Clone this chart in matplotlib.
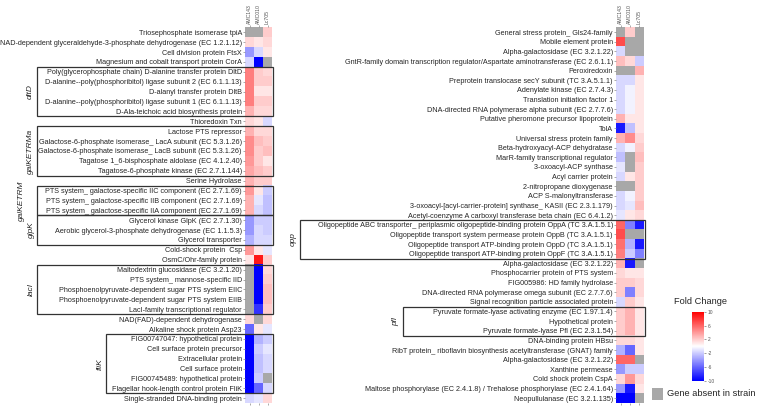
import matplotlib
matplotlib.use('Agg')
import matplotlib.pyplot as plt
import numpy as np
from matplotlib.patches import Rectangle
from matplotlib import transforms

plt.rcParams['font.family'] = ['Liberation Sans', 'DejaVu Sans']

strains = ['AMC143', 'AMC010', 'Lc705']
nan = np.nan

left_labels = [
    'Triosephosphate isomerase tpiA',
    'NAD-dependent glyceraldehyde-3-phosphate dehydrogenase (EC 1.2.1.12)',
    'Cell division protein FtsX',
    'Magnesium and cobalt transport protein CorA',
    'Poly(glycerophosphate chain) D-alanine transfer protein DltD',
    'D-alanine--poly(phosphoribitol) ligase subunit 2 (EC 6.1.1.13)',
    'D-alanyl transfer protein DltB',
    'D-alanine--poly(phosphoribitol) ligase subunit 1 (EC 6.1.1.13)',
    'D-Ala-teichoic acid biosynthesis protein',
    'Thioredoxin Txn',
    'Lactose PTS repressor',
    'Galactose-6-phosphate isomerase_ LacA subunit (EC 5.3.1.26)',
    'Galactose-6-phosphate isomerase_ LacB subunit (EC 5.3.1.26)',
    'Tagatose 1_6-bisphosphate aldolase (EC 4.1.2.40)',
    'Tagatose-6-phosphate kinase (EC 2.7.1.144)',
    'Serine Hydrolase',
    'PTS system_ galactose-specific IIC component (EC 2.7.1.69)',
    'PTS system_ galactose-specific IIB component (EC 2.7.1.69)',
    'PTS system_ galactose-specific IIA component (EC 2.7.1.69)',
    'Glycerol kinase GlpK (EC 2.7.1.30)',
    'Aerobic glycerol-3-phosphate dehydrogenase (EC 1.1.5.3)',
    'Glycerol transporter',
    'Cold-shock protein  Csp',
    'OsmC/Ohr-family protein',
    'Maltodextrin glucosidase (EC 3.2.1.20)',
    'PTS system_ mannose-specific IID',
    'Phosphoenolpyruvate-dependent sugar PTS system EIIC',
    'Phosphoenolpyruvate-dependent sugar PTS system EIIB',
    'LacI-family transcriptional regulator',
    'NAD(FAD)-dependent dehydrogenase',
    'Alkaline shock protein Asp23',
    'FIG00747047: hypothetical protein',
    'Cell surface protein precursor',
    'Extracellular protein',
    'Cell surface protein',
    'FIG00745489: hypothetical protein',
    'Flagellar hook-length control protein FliK',
    'Single-stranded DNA-binding protein',
]

left_values = [
    [nan, nan, 2.0],
    [1.5, 1.0, 1.5],
    [-4.0, -1.5, 1.0],
    [-1.5, -10.0, nan],
    [5.0, 2.0, 1.5],
    [5.0, 2.0, 2.0],
    [5.0, 1.0, 1.0],
    [5.0, 2.0, 2.0],
    [3.0, 1.5, 1.5],
    [1.5, 1.0, -1.5],
    [3.0, 1.5, 1.5],
    [4.5, 2.5, 2.0],
    [4.5, 2.0, 2.5],
    [4.0, 2.0, 1.0],
    [3.5, 2.5, 2.0],
    [3.0, 2.0, 2.0],
    [4.0, 1.0, -2.0],
    [3.0, -1.0, -2.5],
    [3.0, -1.5, -2.5],
    [-4.0, -2.0, -2.0],
    [-4.0, -1.5, -2.0],
    [-3.0, -1.5, -1.5],
    [4.0, 1.0, -1.0],
    [1.0, 9.0, 2.0],
    [nan, -10.0, 1.5],
    [nan, -10.0, 2.0],
    [nan, -10.0, 2.5],
    [nan, -10.0, 2.5],
    [nan, -8.0, 2.0],
    [1.5, nan, 1.5],
    [-6.0, 1.0, -1.0],
    [-10.0, -3.0, -2.0],
    [-10.0, -2.0, -1.0],
    [-10.0, -2.5, -1.5],
    [-10.0, -2.5, -1.5],
    [-10.0, -2.0, nan],
    [-10.0, -6.0, -1.5],
    [-1.5, -1.0, 1.5],
]

right_labels = [
    'General stress protein_ Gls24-family',
    'Mobile element protein',
    'Alpha-galactosidase (EC 3.2.1.22)',
    'GntR-family domain transcription regulator/Aspartate aminotransferase (EC 2.6.1.1)',
    'Peroxiredoxin',
    'Preprotein translocase secY subunit (TC 3.A.5.1.1)',
    'Adenylate kinase (EC 2.7.4.3)',
    'Translation initiation factor 1',
    'DNA-directed RNA polymerase alpha subunit (EC 2.7.7.6)',
    'Putative pheromone precursor lipoprotein',
    'TolA',
    'Universal stress protein family',
    'Beta-hydroxyacyl-ACP dehydratase',
    'MarR-family transcriptional regulator',
    '3-oxoacyl-ACP synthase',
    'Acyl carrier protein',
    '2-nitropropane dioxygenase',
    'ACP S-malonyltransferase',
    '3-oxoacyl-[acyl-carrier-protein] synthase_ KASII (EC 2.3.1.179)',
    'Acetyl-coenzyme A carboxyl transferase beta chain (EC 6.4.1.2)',
    'Oligopeptide ABC transporter_ periplasmic oligopeptide-binding protein OppA (TC 3.A.1.5.1)',
    'Oligopeptide transport system permease protein OppB (TC 3.A.1.5.1)',
    'Oligopeptide transport ATP-binding protein OppD (TC 3.A.1.5.1)',
    'Oligopeptide transport ATP-binding protein OppF (TC 3.A.1.5.1)',
    'Alpha-galactosidase (EC 3.2.1.22)',
    'Phosphocarrier protein of PTS system',
    'FIG005986: HD family hydrolase',
    'DNA-directed RNA polymerase omega subunit (EC 2.7.7.6)',
    'Signal recognition particle associated protein',
    'Pyruvate formate-lyase activating enzyme (EC 1.97.1.4)',
    'Hypothetical protein',
    'Pyruvate formate-lyase Pfl (EC 2.3.1.54)',
    'DNA-binding protein HBsu',
    'RibT protein_ riboflavin biosynthesis acetyltransferase (GNAT) family',
    'Alpha-galactosidase (EC 3.2.1.22)',
    'Xanthine permease',
    'Cold shock protein CspA',
    'Maltose phosphorylase (EC 2.4.1.8) / Trehalose phosphorylase (EC 2.4.1.64)',
    'Neopullulanase (EC 3.2.1.135)',
]

right_values = [
    [nan, 2.0, nan],
    [7.0, nan, nan],
    [-1.5, nan, nan],
    [2.5, 1.5, -2.0],
    [nan, nan, 3.0],
    [-1.5, -1.5, 1.0],
    [-1.5, -0.5, 1.0],
    [-1.5, -0.5, 1.0],
    [-1.5, -0.5, 1.0],
    [3.0, 1.0, 1.0],
    [-9.0, -2.5, 1.0],
    [3.0, 4.5, 1.5],
    [-1.5, -0.5, 2.0],
    [-2.5, nan, 2.5],
    [-1.0, nan, 2.0],
    [-1.5, 1.0, 2.0],
    [nan, nan, 2.0],
    [-1.5, -0.5, 2.0],
    [-1.5, -1.0, 2.5],
    [-1.0, 1.0, 1.5],
    [6.0, -5.0, -9.0],
    [7.0, nan, nan],
    [5.5, -3.0, -9.0],
    [5.0, -2.0, -5.0],
    [3.0, -9.0, nan],
    [1.5, 1.0, 1.0],
    [2.0, 2.0, 1.5],
    [2.0, -5.0, 1.5],
    [-1.5, 2.0, 1.0],
    [2.0, 3.0, 1.0],
    [2.0, 3.0, 1.0],
    [2.0, 3.0, 1.0],
    [1.5, 1.5, 1.0],
    [-3.0, -6.0, 1.0],
    [6.0, 6.0, nan],
    [-4.0, -2.0, -2.0],
    [1.5, 4.0, 1.5],
    [-4.0, -9.0, 1.0],
    [-10.0, -10.0, nan],
]

# groups: (label, first row, last row)
left_groups = [('dltD', 4, 8), ('galKETRMa', 10, 14), ('galKETRM', 16, 18),
               ('glpK', 19, 21), ('lacI', 24, 28), ('fliK', 31, 36)]
right_groups = [('opp', 20, 23), ('pfl', 29, 31)]

cbar_ticks = [10, 6, 2, -2, -6, -10]

W, H = 757, 408
fig = plt.figure(figsize=(W / 100, H / 100), dpi=100)


def px_axes(x0, y0, x1, y1):
    return fig.add_axes([x0 / W, 1 - y1 / H, (x1 - x0) / W, (y1 - y0) / H])


cmap = plt.get_cmap('bwr').copy()
cmap.set_bad('#a8a8a8')
TXT = '#262626'


def draw_heat(ax, labels, vals):
    arr = np.ma.masked_invalid(np.array(vals, dtype=float))
    im = ax.imshow(arr, cmap=cmap, vmin=-10, vmax=10, aspect='auto',
                   interpolation='nearest')
    ax.set_yticks(range(len(labels)))
    ax.set_yticklabels(labels, fontsize=5.2, color=TXT)
    ax.xaxis.tick_top()
    ax.set_xticks(range(len(strains)))
    ax.set_xticklabels(strains, rotation=90, fontsize=3.7, color='#555555')
    ax.tick_params(axis='y', length=1.6, width=0.5, color='#888888', pad=0.6)
    ax.tick_params(axis='x', top=True, bottom=True, length=1.6, width=0.5,
                   color='#888888', pad=1)
    for s in ax.spines.values():
        s.set_visible(False)
    return im


def groups(ax, grp, box_left, lab_x, right_px):
    tr = transforms.blended_transform_factory(fig.transFigure, ax.transData)
    for (name, r0, r1), bl, lx in zip(grp, box_left, lab_x):
        rect = Rectangle((bl / W, r0 - 0.5), (right_px - bl) / W, r1 - r0 + 1,
                         transform=tr, fill=False, edgecolor='#333333', lw=0.9)
        fig.add_artist(rect)
        fig.text(lx / W, (r0 + r1) / 2, name, transform=tr, rotation=90,
                 ha='center', va='center', fontsize=6, style='italic', color=TXT)


axL = px_axes(245, 27.3, 272, 403.2)
im = draw_heat(axL, left_labels, left_values)
axR = px_axes(616, 27.3, 643.5, 403.0)
draw_heat(axR, right_labels, right_values)

groups(axL, left_groups, [36.5, 36.5, 36.5, 36.5, 36.5, 106],
       [30, 30, 21, 31, 31, 100], 273)
groups(axR, right_groups, [300, 403], [293, 396], 644.5)

# legend
fig.text(700 / W, 1 - 302 / H, 'Fold Change', ha='center', va='center',
         fontsize=6.7, color=TXT)
cax = px_axes(692, 311.7, 704, 380.7)
cb = fig.colorbar(im, cax=cax, ticks=cbar_ticks)
cb.set_ticklabels([str(t) for t in cbar_ticks])
cb.outline.set_visible(False)
cax.tick_params(labelsize=3.5, length=1.5, width=0.4, colors='#555555', pad=1)

fig.add_artist(Rectangle((652 / W, 1 - 400 / H), 11 / W, 12 / H,
                         transform=fig.transFigure, facecolor='#a8a8a8',
                         edgecolor='none'))
fig.text(667 / W, 1 - 394 / H, 'Gene absent in strain', ha='left', va='center',
         fontsize=6.7, color=TXT)

fig.savefig('out.png', dpi=100)
